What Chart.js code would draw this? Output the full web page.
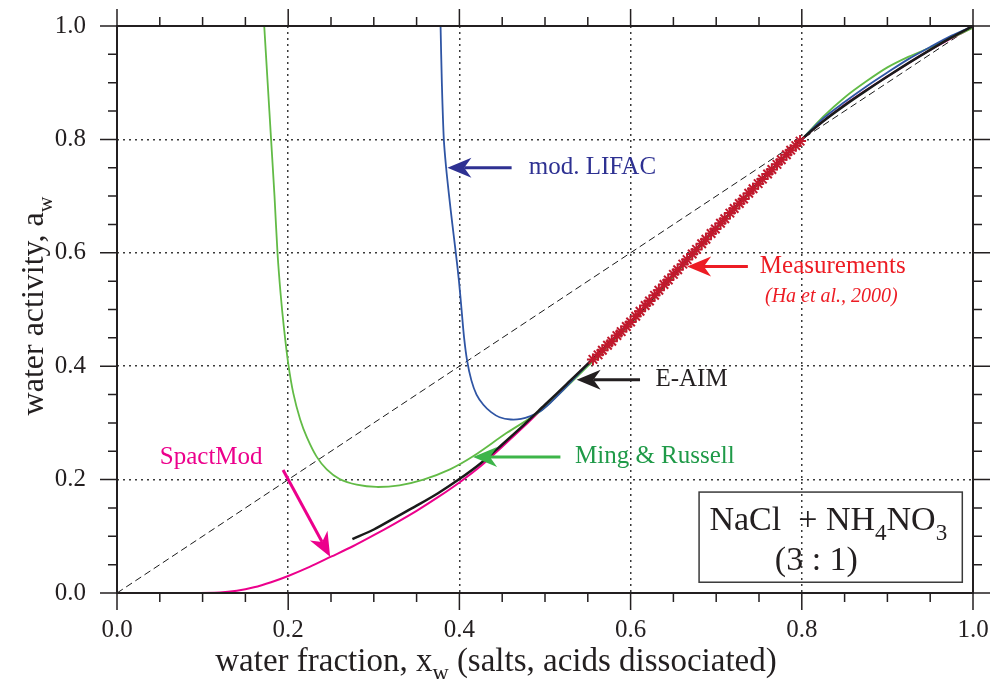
<!DOCTYPE html>
<html>
<head>
<meta charset="utf-8">
<script src="https://cdn.jsdelivr.net/npm/chart.js@4.4.1/dist/chart.umd.min.js"></script>
<style>
  html, body { margin:0; padding:0; background:#fff; }
  #wrap { width:990px; height:679px; }
</style>
</head>
<body>
<div id="wrap"><canvas id="awChart" width="990" height="679"></canvas></div>
<script>
// values: water fraction x_w vs water activity a_w
const tickValues = [0, 0.2, 0.4, 0.6, 0.8, 1.0];

const diagX = [0, 1];
const diagY = [0, 1];

const lifacX = [0.378, 0.3795, 0.3818, 0.3845, 0.388, 0.3918, 0.3958, 0.3995, 0.4025, 0.4055, 0.409, 0.414, 0.420, 0.428, 0.437, 0.447, 0.460, 0.472, 0.483, 0.494, 0.506, 0.520, 0.535, 0.550, 0.600, 0.650, 0.700, 0.750, 0.800, 0.825, 0.850, 0.875, 0.900, 0.925, 0.950, 0.975, 1.000];
const lifacY = [1.000, 0.900, 0.800, 0.750, 0.700, 0.650, 0.600, 0.550, 0.500, 0.450, 0.410, 0.375, 0.350, 0.332, 0.319, 0.310, 0.306, 0.307, 0.312, 0.320, 0.335, 0.356, 0.380, 0.403, 0.477, 0.562, 0.644, 0.724, 0.800, 0.837, 0.866, 0.893, 0.918, 0.942, 0.963, 0.983, 1.000];

const mingX = [0.172, 0.176, 0.180, 0.184, 0.1875, 0.191, 0.195, 0.200, 0.206, 0.214, 0.222, 0.233, 0.245, 0.260, 0.280, 0.303, 0.330, 0.358, 0.389, 0.416, 0.455, 0.494, 0.520, 0.550, 0.600, 0.650, 0.700, 0.750, 0.800, 0.825, 0.850, 0.875, 0.900, 0.925, 0.950, 0.975, 1.000];
const mingY = [1.000, 0.900, 0.800, 0.700, 0.600, 0.530, 0.468, 0.405, 0.352, 0.306, 0.274, 0.241, 0.218, 0.201, 0.191, 0.187, 0.190, 0.200, 0.218, 0.241, 0.282, 0.320, 0.356, 0.400, 0.474, 0.558, 0.642, 0.722, 0.800, 0.840, 0.874, 0.902, 0.927, 0.946, 0.962, 0.979, 0.997];

const aimX = [0.275, 0.300, 0.325, 0.350, 0.375, 0.400, 0.425, 0.450, 0.475, 0.500, 0.525, 0.550, 0.600, 0.650, 0.700, 0.750, 0.800, 0.825, 0.850, 0.875, 0.900, 0.925, 0.950, 0.975, 1.000];
const aimY = [0.095, 0.112, 0.133, 0.154, 0.176, 0.201, 0.229, 0.262, 0.296, 0.332, 0.368, 0.404, 0.478, 0.562, 0.644, 0.724, 0.800, 0.832, 0.860, 0.886, 0.911, 0.935, 0.958, 0.980, 1.000];

const spactX = [0.042, 0.080, 0.120, 0.140, 0.160, 0.180, 0.200, 0.225, 0.250, 0.275, 0.300, 0.325, 0.350, 0.375, 0.400, 0.425, 0.450, 0.475, 0.500, 0.525, 0.550, 0.600, 0.650, 0.700, 0.750, 0.800, 0.850, 0.900, 0.950, 1.000];
const spactY = [0.000, 0.000, 0.001, 0.004, 0.010, 0.019, 0.030, 0.046, 0.064, 0.082, 0.102, 0.123, 0.145, 0.169, 0.195, 0.224, 0.258, 0.293, 0.330, 0.367, 0.404, 0.478, 0.562, 0.644, 0.723, 0.800, 0.861, 0.911, 0.958, 0.998];

// Ha et al., 2000
const measX = [0.556, 0.562, 0.567, 0.573, 0.578, 0.584, 0.589, 0.595, 0.600, 0.606, 0.611, 0.617, 0.622, 0.628, 0.633, 0.639, 0.644, 0.650, 0.655, 0.661, 0.666, 0.672, 0.677, 0.683, 0.688, 0.694, 0.699, 0.705, 0.710, 0.716, 0.721, 0.727, 0.732, 0.738, 0.743, 0.749, 0.754, 0.760, 0.765, 0.771, 0.776, 0.782, 0.787, 0.793, 0.798];
const measY = [0.412, 0.420, 0.428, 0.437, 0.444, 0.454, 0.461, 0.470, 0.478, 0.488, 0.497, 0.507, 0.515, 0.525, 0.534, 0.544, 0.552, 0.562, 0.570, 0.580, 0.588, 0.598, 0.606, 0.616, 0.624, 0.634, 0.642, 0.652, 0.660, 0.670, 0.678, 0.687, 0.695, 0.705, 0.713, 0.722, 0.730, 0.739, 0.747, 0.756, 0.764, 0.773, 0.781, 0.789, 0.797];

const SERIF = "'Liberation Serif', 'Times New Roman', serif";
const INK = '#231f20';

function pts(xs, ys) { return xs.map((x, i) => ({ x, y: ys[i] })); }

// labels + arrows, anchored in data coordinates
const notes = [
  { parts:[{t:'mod. LIFAC'}], color:'#2e3192', at:[0.481, 0.750], from:[0.461, 0.750], to:[0.386, 0.750] },
  { parts:[{t:'Measurements'}], color:'#ed1c24', at:[0.751, 0.576], from:[0.737, 0.576], to:[0.666, 0.576] },
  { parts:[{t:'E-AIM'}], color:INK, at:[0.629, 0.376], from:[0.611, 0.376], to:[0.537, 0.376] },
  { parts:[{t:'Ming & Russell'}], color:'#1f9a48', arrow:'#3db549', at:[0.535, 0.240], from:[0.518, 0.240], to:[0.416, 0.240] },
  { parts:[{t:'SpactMod'}], color:'#ec008c', at:[0.050, 0.239], from:[0.194, 0.217], to:[0.249, 0.064] }
];

function drawParts(ctx, parts, x, y, size, align, italic) {
  const font = s => `${italic ? 'italic ' : ''}${s}px ${SERIF}`;
  let w = 0;
  parts.forEach(p => { ctx.font = font(p.sub ? size * 0.68 : size); w += ctx.measureText(p.t).width; });
  let cx = align === 'center' ? x - w / 2 : x;
  ctx.textAlign = 'left';
  parts.forEach(p => {
    ctx.font = font(p.sub ? size * 0.68 : size);
    ctx.fillText(p.t, cx, p.sub ? y + size * 0.28 : y);
    cx += ctx.measureText(p.t).width;
  });
}

function arrow(ctx, x0, y0, x1, y1, color) {
  const ang = Math.atan2(y1 - y0, x1 - x0);
  const L = 24, H = 10;
  ctx.save();
  ctx.strokeStyle = color; ctx.fillStyle = color; ctx.lineWidth = 3;
  ctx.beginPath();
  ctx.moveTo(x0, y0);
  ctx.lineTo(x1 - Math.cos(ang) * L * 0.7, y1 - Math.sin(ang) * L * 0.7);
  ctx.stroke();
  ctx.translate(x1, y1); ctx.rotate(ang);
  ctx.beginPath();
  ctx.moveTo(0, 0);
  ctx.lineTo(-L, -H);
  ctx.lineTo(-L * 0.7, 0);
  ctx.lineTo(-L, H);
  ctx.closePath();
  ctx.fill();
  ctx.restore();
}

const deco = {
  id: 'deco',
  afterDraw(chart) {
    const { ctx, chartArea: a, scales: { x, y } } = chart;
    ctx.save();
    ctx.strokeStyle = INK;
    ctx.lineWidth = 2;
    ctx.strokeRect(a.left, a.top, a.right - a.left, a.bottom - a.top);
    // tick marks on all four sides, minor every 0.05
    ctx.lineWidth = 1.5;
    ctx.beginPath();
    for (let i = 0; i <= 20; i++) {
      const v = i / 20, len = i % 4 === 0 ? 17 : 9;
      const px = x.getPixelForValue(v), py = y.getPixelForValue(v);
      ctx.moveTo(px, a.bottom); ctx.lineTo(px, a.bottom + len);
      ctx.moveTo(px, a.top); ctx.lineTo(px, a.top - len);
      ctx.moveTo(a.left, py); ctx.lineTo(a.left - len, py);
      ctx.moveTo(a.right, py); ctx.lineTo(a.right + len, py);
    }
    ctx.stroke();

    // annotations
    ctx.textBaseline = 'middle';
    notes.forEach(n => {
      arrow(ctx, x.getPixelForValue(n.from[0]), y.getPixelForValue(n.from[1]),
        x.getPixelForValue(n.to[0]), y.getPixelForValue(n.to[1]), n.arrow || n.color);
      ctx.fillStyle = n.color;
      drawParts(ctx, n.parts, x.getPixelForValue(n.at[0]), y.getPixelForValue(n.at[1]), 25, 'left');
    });
    ctx.fillStyle = '#ed1c24';
    drawParts(ctx, [{t:'(Ha et al., 2000)'}], x.getPixelForValue(0.757), y.getPixelForValue(0.522), 20, 'left', true);

    // mixture box
    const bx0 = x.getPixelForValue(0.680), bx1 = x.getPixelForValue(0.9875);
    const by0 = y.getPixelForValue(0.178), by1 = y.getPixelForValue(0.019);
    ctx.strokeStyle = '#3a3a3a'; ctx.lineWidth = 1.5;
    ctx.strokeRect(bx0, by0, bx1 - bx0, by1 - by0);
    ctx.fillStyle = INK;
    ctx.textBaseline = 'alphabetic';
    drawParts(ctx, [{t:'NaCl  + NH'}, {t:'4', sub:true}, {t:'NO'}, {t:'3', sub:true}],
      x.getPixelForValue(0.831), y.getPixelForValue(0.111), 34, 'center');
    drawParts(ctx, [{t:'(3 : 1)'}], x.getPixelForValue(0.817), y.getPixelForValue(0.0406), 34, 'center');

    // axis titles
    drawParts(ctx, [{t:'water fraction, x'}, {t:'w', sub:true}, {t:' (salts, acids dissociated)'}],
      496, 671, 33, 'center');
    ctx.translate(43, 306);
    ctx.rotate(-Math.PI / 2);
    drawParts(ctx, [{t:'water activity, a'}, {t:'w', sub:true}], 0, 0, 32, 'center');
    ctx.restore();
  }
};

function lineSet(label, xs, ys, color, width) {
  return {
    label, data: pts(xs, ys), borderColor: color, backgroundColor: color,
    borderWidth: width, pointRadius: 0, showLine: true, fill: false, tension: 0.3
  };
}

const gridColor = c => (c.tick && c.tick.value > 0.001 && c.tick.value < 0.999) ? '#3a3a3a' : 'rgba(0,0,0,0)';

const ctx = document.getElementById('awChart').getContext('2d');
const awChart = new Chart(ctx, {
  type: 'scatter',
  data: {
    datasets: [
      {
        label: 'Measurements', data: pts(measX, measY), showLine: false,
        pointStyle: 'star', pointRadius: 6, borderWidth: 2,
        borderColor: '#c1192d', backgroundColor: '#c1192d'
      },
      lineSet('E-AIM', aimX, aimY, '#1a1a1a', 2.5),
      lineSet('mod. LIFAC', lifacX, lifacY, '#2f55a4', 1.8),
      lineSet('Ming & Russell', mingX, mingY, '#62bb46', 1.8),
      lineSet('SpactMod', spactX, spactY, '#ec008c', 2),
      Object.assign(lineSet('x = a', diagX, diagY, '#1a1a1a', 1), { borderDash: [7, 4], tension: 0 })
    ]
  },
  options: {
    responsive: false,
    animation: false,
    layout: { padding: { left: 0, top: 26, right: 17, bottom: 0 } },
    plugins: { legend: { display: false }, tooltip: { enabled: false } },
    scales: {
      x: {
        type: 'linear', min: 0, max: 1,
        afterFit: s => { s.height = 86; s.paddingLeft = 0; s.paddingRight = 0; },
        afterBuildTicks: s => { s.ticks = tickValues.map(v => ({ value: v })); },
        ticks: { callback: v => v.toFixed(1), padding: 22, color: INK, font: { family: SERIF, size: 25 }, maxRotation: 0 },
        grid: { drawTicks: false, color: gridColor, lineWidth: 1.5 },
        border: { display: false, dash: [2, 4] }
      },
      y: {
        type: 'linear', min: 0, max: 1,
        afterFit: s => { s.width = 117; s.paddingTop = 0; s.paddingBottom = 0; },
        afterBuildTicks: s => { s.ticks = tickValues.map(v => ({ value: v })); },
        ticks: { callback: v => v.toFixed(1), padding: 31, color: INK, font: { family: SERIF, size: 25 } },
        grid: { drawTicks: false, color: gridColor, lineWidth: 1.5 },
        border: { display: false, dash: [2, 4] }
      }
    }
  },
  plugins: [deco]
});
</script>
</body>
</html>
